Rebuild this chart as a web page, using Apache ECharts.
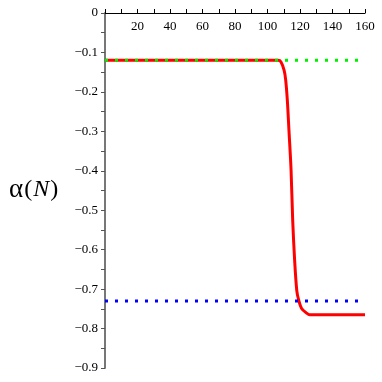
<!DOCTYPE html>
<html>
<head>
<meta charset="utf-8">
<script src="https://cdn.jsdelivr.net/npm/echarts@6/dist/echarts.min.js"></script>
<style>
html,body{margin:0;padding:0;background:#fff;}
#chart{width:382px;height:382px;}
</style>
</head>
<body>
<div id="chart"></div>
<script>
// alpha(N) curve
var curveN = [0, 40, 80, 105, 106.5, 108.3, 110.2, 111.2, 112.2, 113.2, 114.5, 115.5, 116.7, 118.0, 119.2, 121.0, 124.1, 126, 140, 160];
var curveA = [-0.12, -0.12, -0.12, -0.12, -0.12, -0.124, -0.145, -0.17, -0.221, -0.297, -0.398, -0.525, -0.627, -0.703, -0.728, -0.749, -0.761, -0.765, -0.765, -0.765];
var upperLevel = -0.12;
var lowerLevel = -0.73;
var xRange = [0, 160];
var yRange = [-0.9, 0];

function pairs(xs, ys) {
    var out = [];
    for (var i = 0; i < xs.length; i++) out.push([xs[i], ys[i]]);
    return out;
}

var myChart = echarts.init(document.getElementById('chart'));
var option = {
    animation: false,
    grid: {
        left: 105,
        right: 17,
        top: 13,
        bottom: 14
    },
    xAxis: {
        type: 'value',
        position: 'top',
        min: xRange[0],
        max: xRange[1],
        interval: 20,
        axisLine: {
            onZero: false,
            lineStyle: {color: '#000', width: 1.2}
        },
        axisTick: {
            show: true,
            inside: false,
            length: 4,
            lineStyle: {color: '#000'}
        },
        minorTick: {
            show: true,
            splitNumber: 2,
            length: 4,
            lineStyle: {color: '#000'}
        },
        axisLabel: {
            inside: true,
            showMinLabel: false,
            margin: 7,
            fontSize: 13,
            color: '#000',
            fontFamily: 'Liberation Serif'
        },
        splitLine: {show: false}
    },
    yAxis: {
        type: 'value',
        min: yRange[0],
        max: yRange[1],
        interval: 0.1,
        axisLine: {
            show: true,
            onZero: false,
            lineStyle: {color: '#777', width: 2}
        },
        axisTick: {
            show: true,
            length: 4,
            lineStyle: {color: '#555'}
        },
        minorTick: {
            show: true,
            splitNumber: 2,
            length: 4,
            lineStyle: {color: '#555'}
        },
        axisLabel: {
            margin: 7,
            fontSize: 13,
            color: '#000',
            fontFamily: 'Liberation Serif',
            formatter: function (v) {
                if (Math.abs(v) < 1e-9) return '0';
                return '\u2212' + Math.abs(v).toFixed(1);
            }
        },
        splitLine: {show: false}
    },
    graphic: [{
        type: 'text',
        left: 9,
        top: 176,
        style: {
            text: '{a|\u03b1}{p|(}{n|N}{p|)}',
            rich: {
                a: {fontSize: 27, fontFamily: 'Liberation Serif', fill: '#000'},
                p: {fontSize: 24, fontFamily: 'Liberation Serif', fill: '#000', padding: [0, 1]},
                n: {fontSize: 24, fontFamily: 'Liberation Serif', fontStyle: 'italic', fill: '#000'}
            }
        }
    }],
    series: [
        {
            type: 'line',
            data: pairs(curveN, curveA),
            smooth: 0.3,
            showSymbol: false,
            lineStyle: {color: '#ff0000', width: 3},
            z: 2
        },
        {
            type: 'line',
            data: pairs(xRange, [upperLevel, upperLevel]),
            showSymbol: false,
            lineStyle: {color: '#00ee00', width: 3, type: [3, 7]},
            z: 3
        },
        {
            type: 'line',
            data: pairs(xRange, [lowerLevel, lowerLevel]),
            showSymbol: false,
            lineStyle: {color: '#0000ff', width: 3, type: [3, 7]},
            z: 3
        }
    ]
};
myChart.setOption(option);
</script>
</body>
</html>
